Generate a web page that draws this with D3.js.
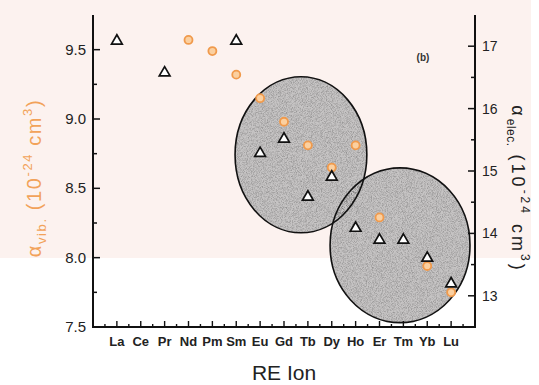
<!DOCTYPE html>
<html>
<head>
<meta charset="utf-8">
<script src="https://cdn.jsdelivr.net/npm/d3@7"></script>
<style>
html,body{margin:0;padding:0;background:#fff;}
svg{display:block;}
</style>
</head>
<body>
<svg id="chart" width="539" height="385"></svg>
<script>
// ---- data ----
const ions = ["La","Ce","Pr","Nd","Pm","Sm","Eu","Gd","Tb","Dy","Ho","Er","Tm","Yb","Lu"];
// alpha_vib (left axis, 10^-24 cm^3)
const vibIons = ["Nd","Pm","Sm","Eu","Gd","Tb","Dy","Ho","Er","Yb","Lu"];
const vibValues = [9.57, 9.49, 9.32, 9.15, 8.98, 8.81, 8.65, 8.81, 8.29, 7.94, 7.75];
// alpha_elec (right axis, 10^-24 cm^3)
const elecIons = ["La","Pr","Sm","Eu","Gd","Tb","Dy","Ho","Er","Tm","Yb","Lu"];
const elecValues = [17.10, 16.59, 17.10, 15.30, 15.53, 14.60, 14.92, 14.10, 13.91, 13.91, 13.62, 13.21];
// tick values
const leftTicks = [7.5, 8.0, 8.5, 9.0, 9.5];
const leftMinor = [7.75, 8.25, 8.75, 9.25];
const rightTicks = [13, 14, 15, 16, 17];
const rightMinor = [13.5, 14.5, 15.5, 16.5];
// grouping ellipses (center index on x, center on right axis, radii in axis units)
const groupCx = [8.71, 12.86];
const groupCy = [15.26, 13.81];
const groupRx = [2.76, 2.93];
const groupRy = [1.25, 1.24];

// ---- scales ----
const svg = d3.select("#chart");
const x = d3.scaleLinear().domain([0, 16]).range([93, 475]);
const yL = d3.scaleLinear().domain([7.5, 9.75]).range([327, 15]);
const yR = d3.scaleLinear().domain([12.5, 17.5]).range([327, 15]);
const xi = name => ions.indexOf(name) + 1;

// scanned background tint
svg.append("rect").attr("x", 0).attr("y", 0).attr("width", 531).attr("height", 258).attr("fill", "#fcf2ef");

// noise filter
const defs = svg.append("defs");
const f = defs.append("filter").attr("id", "noise").attr("x", "0%").attr("y", "0%").attr("width", "100%").attr("height", "100%")
  .attr("color-interpolation-filters", "sRGB");
f.append("feTurbulence").attr("type", "fractalNoise").attr("baseFrequency", "1.2").attr("numOctaves", 1).attr("seed", 3).attr("result", "t");
f.append("feColorMatrix").attr("in", "t").attr("type", "matrix")
  .attr("values", "0 0 0 0 0  0 0 0 0 0  0 0 0 0 0  0.6 0 0 0 -0.24").attr("result", "n");
f.append("feComposite").attr("in", "n").attr("in2", "SourceGraphic").attr("operator", "in");

// ellipses
const groups = d3.range(groupCx.length);
const ell = sel => sel
  .attr("cx", i => x(groupCx[i])).attr("cy", i => yR(groupCy[i]))
  .attr("rx", i => x(groupRx[i]) - x(0)).attr("ry", i => yR(12.5) - yR(12.5 + groupRy[i]));
svg.selectAll("ellipse.grp").data(groups).join("ellipse").attr("class", "grp").call(ell)
  .attr("fill", "#c6c4c4").attr("stroke", "none");
svg.selectAll("ellipse.noise").data(groups).join("ellipse").attr("class", "noise").call(ell)
  .attr("fill", "#000").attr("filter", "url(#noise)");
svg.selectAll("ellipse.edge").data(groups).join("ellipse").attr("class", "edge").call(ell)
  .attr("fill", "none").attr("stroke", "#111").attr("stroke-width", 1.6);

// vib circles
svg.selectAll("circle.vib").data(vibIons).join("circle").attr("class", "vib")
  .attr("cx", (d) => x(xi(d))).attr("cy", (d, i) => yL(vibValues[i]))
  .attr("r", 4).attr("fill", "#fbd0a0").attr("stroke", "#f09a4c").attr("stroke-width", 1.8);

// elec triangles
const tri = d3.symbol().type(d3.symbolTriangle).size(50);
svg.selectAll("path.elec").data(elecIons).join("path").attr("class", "elec")
  .attr("transform", (d, i) => `translate(${x(xi(d))},${yR(elecValues[i]) + 1})`)
  .attr("d", tri).attr("fill", "#fff").attr("stroke", "#111").attr("stroke-width", 1.7);

// axes
const axisG = svg.append("g").attr("stroke", "#111").attr("stroke-width", 2).attr("fill", "none");
axisG.append("path").attr("d", `M${x(0)},${yL(9.75)}V${yL(7.5)}H${x(16)}V${yR(17.5)}`);

const tickFont = "'Liberation Sans', Arial, sans-serif";
// bottom axis
const xMaj = d3.range(1, 16);
const xMin = d3.range(0.5, 16, 1);
svg.append("g").selectAll("line").data(xMaj).join("line")
  .attr("x1", d => x(d)).attr("x2", d => x(d)).attr("y1", yL(7.5)).attr("y2", yL(7.5) - 6)
  .attr("stroke", "#111").attr("stroke-width", 1.4);
svg.append("g").selectAll("line").data(xMin).join("line")
  .attr("x1", d => x(d)).attr("x2", d => x(d)).attr("y1", yL(7.5)).attr("y2", yL(7.5) - 3)
  .attr("stroke", "#111").attr("stroke-width", 1.4);
svg.append("g").selectAll("text").data(ions).join("text")
  .attr("x", (d, i) => x(i + 1)).attr("y", 346).attr("text-anchor", "middle")
  .attr("font-family", "'Liberation Sans Narrow', 'Arial Narrow', " + tickFont).attr("font-weight", "bold")
  .attr("font-size", 13).attr("fill", "#222").text(d => d);

// left axis
svg.append("g").selectAll("line").data(leftTicks).join("line")
  .attr("x1", x(0)).attr("x2", x(0) + 7).attr("y1", d => yL(d)).attr("y2", d => yL(d))
  .attr("stroke", "#111").attr("stroke-width", 1.5);
svg.append("g").selectAll("line").data(leftMinor).join("line")
  .attr("x1", x(0)).attr("x2", x(0) + 4).attr("y1", d => yL(d)).attr("y2", d => yL(d))
  .attr("stroke", "#111").attr("stroke-width", 1.5);
svg.append("g").selectAll("text").data(leftTicks).join("text")
  .attr("x", 86).attr("y", d => yL(d) + 5).attr("text-anchor", "end")
  .attr("font-family", tickFont).attr("font-size", 15).attr("fill", "#222")
  .text(d => d3.format(".1f")(d));

// right axis
svg.append("g").selectAll("line").data(rightTicks).join("line")
  .attr("x1", x(16)).attr("x2", x(16) - 7).attr("y1", d => yR(d)).attr("y2", d => yR(d))
  .attr("stroke", "#111").attr("stroke-width", 1.5);
svg.append("g").selectAll("line").data(rightMinor).join("line")
  .attr("x1", x(16)).attr("x2", x(16) - 4).attr("y1", d => yR(d)).attr("y2", d => yR(d))
  .attr("stroke", "#111").attr("stroke-width", 1.5);
svg.append("g").selectAll("text").data(rightTicks).join("text")
  .attr("x", 482).attr("y", d => yR(d) + 5).attr("text-anchor", "start")
  .attr("font-family", tickFont).attr("font-size", 14).attr("fill", "#222")
  .text(d => d);

// panel label
svg.append("text").attr("x", 423).attr("y", 61).attr("text-anchor", "middle")
  .attr("font-family", tickFont).attr("font-weight", "bold").attr("font-size", 10).attr("fill", "#333").text("(b)");

// x title
svg.append("text").attr("x", 284).attr("y", 380).attr("text-anchor", "middle")
  .attr("font-family", tickFont).attr("font-size", 21).attr("fill", "#222").text("RE Ion");

// left title
const lt = svg.append("text").attr("transform", "translate(41,178) rotate(-90)").attr("text-anchor", "middle")
  .attr("font-family", tickFont).attr("font-size", 20).attr("fill", "#f2a25a").attr("letter-spacing", 1.6);
lt.append("tspan").text("α");
lt.append("tspan").attr("font-size", 13).attr("dy", 5).text("vib.");
lt.append("tspan").attr("dy", -5).text(" (10");
lt.append("tspan").attr("font-size", 13).attr("dy", -9).text("-24");
lt.append("tspan").attr("dy", 9).text(" cm");
lt.append("tspan").attr("font-size", 13).attr("dy", -9).text("3");
lt.append("tspan").attr("dy", 9).text(")");

// right title
const rt = svg.append("text").attr("transform", "translate(512,189) rotate(90)").attr("text-anchor", "middle")
  .attr("font-family", tickFont).attr("font-size", 18).attr("fill", "#222").attr("letter-spacing", 3);
rt.append("tspan").text("α");
rt.append("tspan").attr("font-size", 12).attr("dy", 5).attr("letter-spacing", 0.5).text("elec.");
rt.append("tspan").attr("dy", -5).text("  (10");
rt.append("tspan").attr("font-size", 12).attr("dy", -9).text("-24");
rt.append("tspan").attr("dy", 9).text("  cm");
rt.append("tspan").attr("font-size", 12).attr("dy", -9).text("3");
rt.append("tspan").attr("dy", 9).text(")");
</script>
</body>
</html>
